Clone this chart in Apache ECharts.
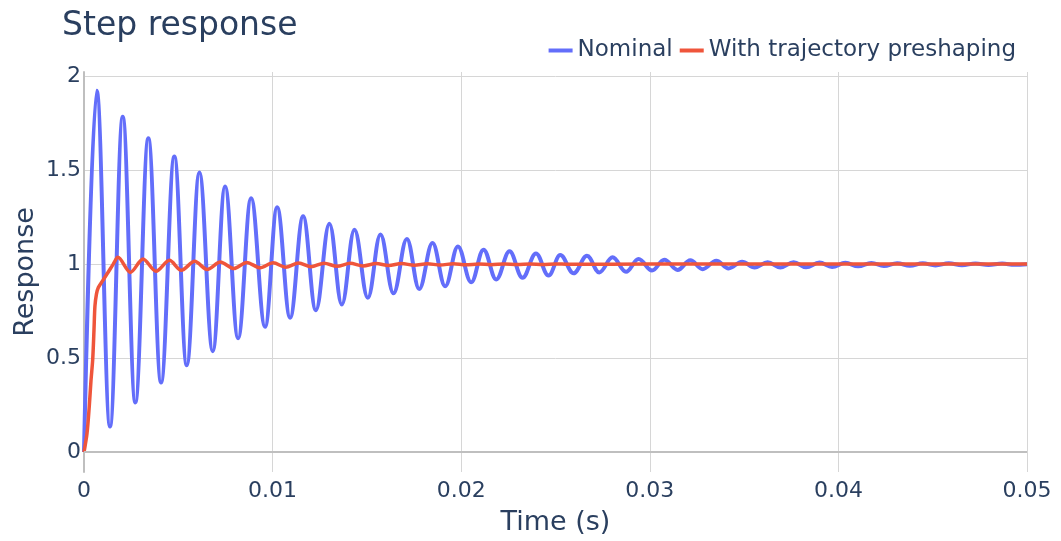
<!DOCTYPE html>
<html><head><meta charset="utf-8">
<script src="https://cdn.jsdelivr.net/npm/echarts@6/dist/echarts.min.js"></script>
<style>html,body{margin:0;padding:0;background:#fff}#c{width:1061px;height:541px}</style>
</head><body><div id="c"></div>
<script>
const titleText = 'Step response';
const seriesNames = ['Nominal', 'With trajectory preshaping'];
const xTicks = [0, 0.01, 0.02, 0.03, 0.04, 0.05];
const yTicks = [0, 0.5, 1, 1.5, 2];

// Nominal response: extrema (time s, response)
const nominalT = [0, 0.000674, 0.001379, 0.002053, 0.002721, 0.003411, 0.004085, 0.004790, 0.005448, 0.006117,
  0.006827, 0.007480, 0.008170, 0.008859, 0.009602, 0.010239, 0.010928, 0.011618, 0.012292, 0.013013,
  0.013671, 0.014339, 0.015050, 0.015719, 0.016409, 0.017119, 0.017772, 0.018478, 0.019151, 0.019825,
  0.020530, 0.021183, 0.021857, 0.022562, 0.023252, 0.023963, 0.024631, 0.025252, 0.025958, 0.026668,
  0.027321, 0.028026, 0.028737, 0.029406, 0.030117, 0.030769, 0.031475, 0.032148, 0.032801, 0.033528,
  0.034180, 0.034891, 0.035559, 0.036249, 0.036923, 0.037628, 0.038286, 0.038992, 0.039665, 0.040371,
  0.041045, 0.041750, 0.042413, 0.043114, 0.043793, 0.044472, 0.045146, 0.045851, 0.046551, 0.047267,
  0.047957, 0.048684, 0.049337, 0.05];
const nominalV = [0, 1.922, 0.136, 1.784, 0.264, 1.669, 0.370, 1.572, 0.462, 1.487,
  0.537, 1.413, 0.605, 1.351, 0.667, 1.303, 0.715, 1.254, 0.755, 1.215,
  0.785, 1.183, 0.821, 1.157, 0.845, 1.134, 0.868, 1.112, 0.882, 1.094,
  0.903, 1.077, 0.918, 1.068, 0.927, 1.056, 0.939, 1.048, 0.951, 1.044,
  0.956, 1.036, 0.959, 1.027, 0.966, 1.023, 0.969, 1.020, 0.973, 1.018,
  0.977, 1.013, 0.982, 1.010, 0.982, 1.010, 0.983, 1.008, 0.985, 1.007,
  0.988, 1.006, 0.990, 1.005, 0.991, 1.004, 0.993, 1.004, 0.994, 1.003,
  0.995, 1.003, 0.996, 0.999];

// Response with trajectory preshaping (time s, response)
const preshapedT = [0, 0.00016, 0.00028, 0.00037, 0.00046, 0.00053, 0.00058, 0.00066, 0.00076, 0.00101,
  0.00127, 0.00155, 0.00180, 0.00246, 0.00313, 0.00382, 0.00453, 0.00516, 0.00587, 0.00653,
  0.00723, 0.00794, 0.00863, 0.00934, 0.01003, 0.01069, 0.01138, 0.01204, 0.01273, 0.01342,
  0.01411, 0.01480, 0.01549, 0.01615, 0.01684, 0.01751, 0.01820, 0.01889, 0.01958, 0.02024,
  0.02093, 0.02159, 0.02228, 0.02297, 0.02366, 0.02432, 0.02501, 0.02568, 0.03, 0.04, 0.05];
const preshapedV = [0, 0.10, 0.245, 0.38, 0.49, 0.65, 0.776, 0.84, 0.875, 0.915,
  0.955, 1.0, 1.036, 0.956, 1.027, 0.962, 1.020, 0.967, 1.015, 0.971,
  1.011, 0.976, 1.009, 0.980, 1.007, 0.983, 1.006, 0.986, 1.005, 0.988,
  1.004, 0.990, 1.003, 0.992, 1.003, 0.994, 1.002, 0.995, 1.002, 0.996,
  1.001, 0.997, 1.001, 0.998, 1.001, 0.998, 1.001, 0.999, 1.0, 1.0, 1.0];

const font = 'DejaVu Sans';
const textColor = '#2a3f5f';
const gridColor = '#d6d6d6';
const zeroColor = '#bfbfbf';
const pairs = (t, v) => t.map((x, i) => [x, v[i]]);

const chart = echarts.init(document.getElementById('c'), null, {renderer: 'canvas'});
chart.setOption({
  animation: false,
  backgroundColor: '#ffffff',
  title: {
    text: titleText, left: 57, top: 5,
    textStyle: {fontFamily: font, fontSize: 33, fontWeight: 'normal', color: textColor}
  },
  legend: {
    data: seriesNames, right: 40, top: 34, icon: 'rect', itemWidth: 24, itemHeight: 4, itemGap: 7,
    textStyle: {fontFamily: font, fontSize: 23, color: textColor}
  },
  grid: {left: 84, right: 34, top: 72, bottom: 68},
  xAxis: {
    type: 'value', min: 0, max: 0.05, interval: 0.01,
    name: 'Time (s)', nameLocation: 'middle', nameGap: 37, nameMoveOverlap: false,
    nameTextStyle: {fontFamily: font, fontSize: 27, color: textColor},
    axisLine: {show: false}, axisTick: {show: false},
    axisLabel: {fontFamily: font, fontSize: 22, color: textColor, margin: 8,
      formatter: v => String(+v.toFixed(2))},
    splitLine: {show: true, lineStyle: {color: gridColor, width: 1}}
  },
  yAxis: {
    type: 'value', min: -0.106, max: 2.022,
    name: 'Response', nameLocation: 'middle', nameGap: 45, nameRotate: 90, nameMoveOverlap: false,
    nameTextStyle: {fontFamily: font, fontSize: 27, color: textColor},
    axisLine: {show: true, onZero: false, lineStyle: {color: zeroColor, width: 2}},
    axisTick: {show: false, customValues: yTicks},
    axisLabel: {customValues: yTicks, fontFamily: font, fontSize: 22, color: textColor, margin: 3,
      formatter: v => String(+v.toFixed(2))},
    splitLine: {show: true, lineStyle: {color: gridColor, width: 1}}
  },
  series: [
    {
      name: 'zero', type: 'line', data: [], z: 1, silent: true,
      markLine: {silent: true, symbol: ['none', 'none'], label: {show: false}, animation: false,
        lineStyle: {color: zeroColor, width: 2, type: 'solid'}, data: [{yAxis: 0}]}
    },
    {
      name: seriesNames[0], type: 'line', data: pairs(nominalT, nominalV), z: 3,
      showSymbol: false, smooth: 0.38, smoothMonotone: 'x',
      lineStyle: {color: '#636efa', width: 4}, itemStyle: {color: '#636efa'}
    },
    {
      name: seriesNames[1], type: 'line', data: pairs(preshapedT, preshapedV), z: 4,
      showSymbol: false, smooth: 0.3,
      lineStyle: {color: '#ef553b', width: 3.5}, itemStyle: {color: '#ef553b'}
    }
  ]
});
</script></body></html>
